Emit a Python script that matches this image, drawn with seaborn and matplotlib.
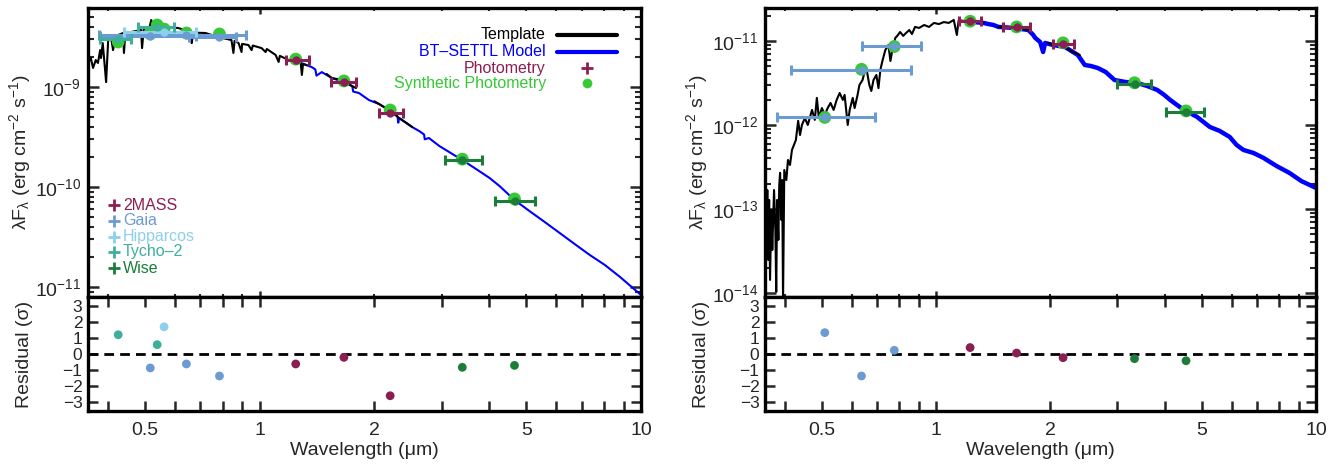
import numpy as np
import pandas as pd
import matplotlib
matplotlib.use("Agg")
import matplotlib.pyplot as plt
import seaborn as sns
from matplotlib.ticker import FixedLocator, NullFormatter, FuncFormatter, LogLocator, FixedFormatter

# ======================= DATA: left star =======================
L_tpl_vis_wl = [0.355,0.361,0.366,0.372,0.377,0.382,0.384,0.388,0.393,0.396,0.401,0.408,0.413,0.419,0.426,
                0.439,0.441,0.445,0.461,0.489,0.492,0.497,0.515,0.520,0.526,0.566,0.612,0.662,0.664,0.670,
                0.721,0.780,0.844,0.854,0.860,0.881,0.897,0.900,0.935,0.953,0.960,1.012,1.037,1.045,1.102,
                1.122,1.130,1.192,1.282,1.291,1.300,1.330]
L_tpl_vis_fx = [1.74e-9,1.95e-9,1.55e-9,1.86e-9,1.74e-9,2.34e-9,1.95e-9,2.75e-9,1.58e-9,1.12e-9,2.95e-9,3.16e-9,2.34e-9,3.20e-9,3.31e-9,
                3.47e-9,2.19e-9,3.50e-9,3.55e-9,3.72e-9,2.45e-9,3.80e-9,4.00e-9,4.68e-9,4.17e-9,3.98e-9,3.89e-9,3.55e-9,2.75e-9,3.50e-9,
                3.47e-9,3.16e-9,2.95e-9,2.19e-9,2.90e-9,2.75e-9,2.24e-9,2.70e-9,2.63e-9,2.34e-9,2.60e-9,2.45e-9,2.24e-9,2.40e-9,2.09e-9,
                1.78e-9,2.05e-9,1.86e-9,1.74e-9,1.32e-9,1.70e-9,1.65e-9]
L_tpl_h_wl = [1.50, 1.546, 1.60, 1.683, 1.75, 1.79]
L_tpl_h_fx = [1.35e-9, 1.23e-9, 1.20e-9, 1.10e-9, 1.02e-9, 9.77e-10]
L_tpl_k_wl = [2.00, 2.057, 2.12, 2.184, 2.25, 2.321, 2.40, 2.512]
L_tpl_k_fx = [7.20e-10, 6.76e-10, 6.30e-10, 5.89e-10, 5.40e-10, 4.90e-10, 4.50e-10, 3.98e-10]

L_mod_wl = [1.266,1.371,1.40,1.41,1.456,1.546,1.683,1.75,1.76,1.822,1.935,2.057,2.184,2.30,2.31,2.321,2.512,2.62,
            2.70,2.71,2.78,2.96,3.14,3.40,3.66,4.01,4.26,4.66,5.10,5.59,6.12,6.70,7.34,8.04,8.81,10.0]
L_mod_fx = [1.78e-9,1.58e-9,1.50e-9,1.30e-9,1.41e-9,1.23e-9,1.10e-9,1.02e-9,9.0e-10,8.71e-10,7.41e-10,6.76e-10,5.89e-10,
            5.10e-10,4.40e-10,4.90e-10,3.98e-10,3.63e-10,3.35e-10,3.00e-10,3.09e-10,2.57e-10,2.24e-10,1.86e-10,1.55e-10,
            1.23e-10,1.02e-10,7.41e-11,5.75e-11,4.47e-11,3.47e-11,2.69e-11,2.09e-11,1.66e-11,1.26e-11,8.32e-12]

L_inst = ["Tycho-2","Gaia","Tycho-2","Hipparcos","Gaia","Gaia","2MASS","2MASS","2MASS","Wise","Wise"]
L_wl   = [0.426, 0.517, 0.539, 0.562, 0.643, 0.785, 1.244, 1.664, 2.20, 3.40, 4.66]
L_lo   = [0.382, 0.382, 0.480, 0.441, 0.379, 0.654, 1.17, 1.54, 2.06, 3.07, 4.15]
L_hi   = [0.461, 0.683, 0.597, 0.683, 0.924, 0.870, 1.35, 1.79, 2.38, 3.84, 5.26]
L_fx   = [3.02e-9, 3.24e-9, 3.98e-9, 3.55e-9, 3.31e-9, 3.16e-9, 1.86e-9, 1.12e-9, 5.50e-10, 1.86e-10, 7.24e-11]
L_syn  = [2.82e-9, 3.40e-9, 4.17e-9, 3.80e-9, 3.47e-9, 3.39e-9, 1.90e-9, 1.15e-9, 5.89e-10, 1.90e-10, 7.60e-11]
L_res  = [1.2, -0.87, 0.58, 1.69, -0.62, -1.37, -0.62, -0.21, -2.6, -0.83, -0.71]

# ======================= DATA: right star =======================
R_tpl_vis_wl = [0.356,0.358,0.360,0.362,0.364,0.366,0.369,0.371,0.375,0.378,
                0.380,0.382,0.385,0.387,0.389,0.392,0.394,0.396,0.399,0.404,
                0.408,0.413,0.418,0.423,0.428,0.434,0.439,0.444,0.452,0.460,
                0.472,0.480,0.486,0.492,0.501,0.510,0.519,0.528,0.538,0.548,
                0.558,0.569,0.575,0.586,0.593,0.604,0.611,0.622,0.629,0.641,
                0.649,0.656,0.668,0.676,0.685,0.697,0.706,0.714,0.723,0.736,
                0.750,0.759,0.768,0.782,0.791,0.805,0.820,0.835,0.851,0.865,
                0.881,0.903,0.931,0.959,0.988,1.018,1.049,1.081,1.114,1.135,
                1.148,1.183,1.219,1.256,1.294,1.334]
R_tpl_vis_fx = [1.28e-13,4.28e-14,1.68e-13,2.47e-14,1.28e-13,1.43e-14,9.73e-14,3.25e-14,1.68e-13,5.62e-14,
                1.03e-14,1.28e-13,4.28e-14,1.93e-13,2.69e-13,7.40e-14,2.21e-13,8.0e-15,2.91e-13,2.21e-13,
                3.83e-13,3.34e-13,5.04e-13,5.78e-13,6.62e-13,1.12e-12,7.60e-13,1.0e-12,1.21e-12,1.0e-12,
                1.51e-12,1.15e-12,2.10e-12,1.21e-12,1.59e-12,1.32e-12,1.59e-12,1.83e-12,1.51e-12,1.99e-12,
                2.40e-12,1.99e-12,2.28e-12,1.0e-12,1.51e-12,2.10e-12,1.59e-12,2.28e-12,2.99e-12,3.43e-12,
                4.28e-12,4.77e-12,2.99e-12,2.54e-12,3.43e-12,3.94e-12,2.75e-12,4.52e-12,5.78e-12,7.82e-12,
                8.96e-12,5.78e-12,7.82e-12,1.09e-11,1.15e-11,1.28e-11,1.15e-11,1.25e-11,1.35e-11,1.21e-11,
                1.47e-11,1.43e-11,1.55e-11,1.47e-11,1.64e-11,1.59e-11,1.68e-11,1.64e-11,1.78e-11,1.18e-11,
                1.78e-11,1.73e-11,1.78e-11,1.68e-11,1.73e-11,1.64e-11]
R_tpl_h_wl = [1.460, 1.551, 1.647, 1.750]
R_tpl_h_fx = [1.47e-11, 1.47e-11, 1.43e-11, 1.35e-11]
R_tpl_k_wl = [1.972, 2.033, 2.12, 2.184, 2.29, 2.39]
R_tpl_k_fx = [9.47e-12, 8.96e-12, 8.96e-12, 8.49e-12, 7.40e-12, 6.81e-12]

R_mod_wl = [1.256,1.334,1.375,1.417,1.460,1.600,1.750,1.803,1.824,1.880,1.914,1.937,2.033,2.184,2.362,2.464,2.555,
            2.665,2.795,2.951,3.153,3.388,3.597,3.822,3.987,4.131,4.308,4.496,4.861,5.256,5.580,5.929,6.181,6.444,
            6.849,7.278,7.870,8.511,9.147,10.0]
R_mod_fx = [1.68e-11,1.64e-11,1.59e-11,1.55e-11,1.47e-11,1.43e-11,1.35e-11,1.18e-11,1.09e-11,9.73e-12,7.40e-12,
            9.47e-12,8.96e-12,8.49e-12,6.81e-12,5.18e-12,5.04e-12,4.77e-12,4.28e-12,3.43e-12,3.25e-12,3.16e-12,
            2.91e-12,2.61e-12,2.28e-12,1.99e-12,1.73e-12,1.51e-12,1.25e-12,9.47e-13,8.49e-13,7.20e-13,5.78e-13,
            5.04e-13,4.64e-13,4.05e-13,3.25e-13,2.69e-13,2.15e-13,1.78e-13]

R_inst = ["Gaia","Gaia","Gaia","2MASS","2MASS","2MASS","Wise","Wise"]
R_wl   = [0.510, 0.637, 0.777, 1.23, 1.63, 2.16, 3.33, 4.55]
R_lo   = [0.382, 0.416, 0.637, 1.15, 1.50, 2.03, 3.00, 4.03]
R_hi   = [0.690, 0.860, 0.914, 1.31, 1.77, 2.31, 3.69, 5.07]
R_fx   = [1.25e-12, 4.52e-12, 8.70e-12, 1.73e-11, 1.47e-11, 9.20e-12, 3.10e-12, 1.42e-12]
R_syn  = [1.23e-12, 4.60e-12, 8.60e-12, 1.72e-11, 1.47e-11, 9.50e-12, 3.18e-12, 1.47e-12]
R_res  = [1.33, -1.37, 0.23, 0.40, 0.06, -0.23, -0.29, -0.42]

instruments = ["2MASS", "Gaia", "Hipparcos", "Tycho-2", "Wise"]
inst_labels = ["2MASS", "Gaia", "Hipparcos", "Tycho\u20132", "Wise"]
x_tick_vals = [0.5, 1, 2, 5, 10]
x_tick_labels = ["0.5", "1", "2", "5", "10"]
res_ticks = [-3, -2, -1, 0, 1, 2, 3]

# ======================= STYLE =======================
inst_colors = {"2MASS": "#8C1F52", "Gaia": "#6C9BD2", "Hipparcos": "#8CCFEE",
               "Tycho-2": "#3FAE9C", "Wise": "#1C7D3A"}
syn_color = "#35C935"
model_color = "#0000FF"

sns.set_theme(style="ticks")
plt.rcParams["font.family"] = ["Liberation Sans", "DejaVu Sans"]
plt.rcParams["mathtext.fontset"] = "custom"
plt.rcParams["mathtext.rm"] = "Liberation Sans"
plt.rcParams["mathtext.it"] = "Liberation Sans:italic"
plt.rcParams["mathtext.default"] = "regular"
FS = 14
FS_RES = 12.5
YLAB_X = -0.100

fig = plt.figure(figsize=(13.44, 4.66), dpi=100)
W, H = 1344.0, 466.0


def rect(x0, x1, y0, y1):
    return [x0 / W, 1 - y1 / H, (x1 - x0) / W, (y1 - y0) / H]


axL = fig.add_axes(rect(88, 641, 8, 297))
axLr = fig.add_axes(rect(88, 641, 297, 411))
axR = fig.add_axes(rect(765, 1316, 8, 297))
axRr = fig.add_axes(rect(765, 1316, 297, 411))

decade_fmt = FuncFormatter(lambda v, p: r"$10^{%d}$" % int(round(np.log10(v))))
xminor = [0.4, 0.6, 0.7, 0.8, 0.9, 2, 3, 4, 5, 6, 7, 8, 9]
xminor_res = [0.4, 0.6, 0.7, 0.8, 0.9, 3, 4, 6, 7, 8, 9]


def style_axes(ax):
    for s in ax.spines.values():
        s.set_linewidth(2.4)
        s.set_color("black")
        s.set_visible(True)


def draw(ax, axr, segs, mod_wl, mod_fx, mod_lw, inst, wl, lo, hi, fx, syn, res, ylim):
    ax.set_xscale("log")
    ax.set_yscale("log")
    # model underneath
    sns.lineplot(x=mod_wl, y=mod_fx, sort=False, estimator=None, color=model_color,
                 lw=mod_lw, ax=ax, legend=False, zorder=1)
    # template segments
    rows = []
    for i, (sw, sf) in enumerate(segs):
        for a, b in zip(sw, sf):
            rows.append((a, b, i))
    df = pd.DataFrame(rows, columns=["wl", "fx", "seg"])
    sns.lineplot(data=df, x="wl", y="fx", units="seg", estimator=None, sort=False,
                 color="black", lw=1.5, ax=ax, legend=False, zorder=2)
    # synthetic photometry
    sns.scatterplot(x=wl, y=syn, color=syn_color, s=85, edgecolor="none", ax=ax,
                    zorder=3, legend=False)
    # photometry with error bars
    wl_a, lo_a, hi_a, fx_a = map(np.asarray, (wl, lo, hi, fx))
    inst_a = np.asarray(inst)
    for name in instruments:
        m = inst_a == name
        if not m.any():
            continue
        c = inst_colors[name]
        ax.errorbar(wl_a[m], fx_a[m], xerr=[wl_a[m] - lo_a[m], hi_a[m] - wl_a[m]], fmt="o",
                    ms=5, color=c, mec=c, ecolor=c, elinewidth=2.2, capsize=3.5, capthick=2.2, zorder=4)
    ax.set_xlim(0.355, 10)
    ax.set_ylim(*ylim)
    ax.set_xlabel("")
    ax.set_ylabel(r"λF$_{λ}$ (erg cm$^{-2}$ s$^{-1}$)", fontsize=FS)
    ax.yaxis.set_label_coords(YLAB_X, 0.5)
    ax.xaxis.set_major_locator(FixedLocator([1, 10]))
    ax.xaxis.set_minor_locator(FixedLocator(xminor))
    ax.xaxis.set_major_formatter(NullFormatter())
    ax.xaxis.set_minor_formatter(NullFormatter())
    ax.yaxis.set_major_locator(LogLocator(base=10, numticks=20))
    ax.yaxis.set_minor_locator(LogLocator(base=10, subs=np.arange(2, 10), numticks=20))
    ax.yaxis.set_major_formatter(decade_fmt)
    ax.yaxis.set_minor_formatter(NullFormatter())
    ax.tick_params(axis="x", which="major", direction="in", top=True, bottom=True, length=4.5, width=1.8)
    ax.tick_params(axis="x", which="minor", direction="in", top=True, bottom=True, length=2.5, width=1.5)
    ax.tick_params(axis="y", which="major", direction="in", left=True, right=True, length=8, width=1.8,
                   labelsize=FS, pad=5)
    ax.tick_params(axis="y", which="minor", direction="in", left=True, right=True, length=4, width=1.5)
    style_axes(ax)

    # residuals
    axr.set_xscale("log")
    axr.axhline(0, color="black", lw=2, ls=(0, (3.5, 2.2)), zorder=1)
    sns.scatterplot(x=wl, y=res, hue=inst, palette=inst_colors, s=40, edgecolor="none",
                    ax=axr, legend=False, zorder=3)
    axr.set_xlim(0.355, 10)
    axr.set_ylim(-3.55, 3.55)
    axr.set_yticks(res_ticks)
    axr.set_yticklabels([("\u2212%d" % -t) if t < 0 else "%d" % t for t in res_ticks])
    axr.xaxis.set_major_locator(FixedLocator(x_tick_vals))
    axr.xaxis.set_major_formatter(FixedFormatter(x_tick_labels))
    axr.xaxis.set_minor_locator(FixedLocator(xminor_res))
    axr.xaxis.set_minor_formatter(NullFormatter())
    axr.tick_params(axis="x", which="both", direction="in", top=True, bottom=True, length=7, width=1.8,
                    labelsize=FS, pad=8)
    axr.tick_params(axis="y", which="both", direction="in", left=True, right=True, length=7, width=1.8,
                    labelsize=FS_RES, pad=4)
    axr.set_xlabel("Wavelength (μm)", fontsize=FS, labelpad=2)
    axr.set_ylabel("Residual (σ)", fontsize=FS)
    axr.yaxis.set_label_coords(YLAB_X, 0.5)
    style_axes(axr)


draw(axL, axLr,
     [(L_tpl_vis_wl, L_tpl_vis_fx), (L_tpl_h_wl, L_tpl_h_fx), (L_tpl_k_wl, L_tpl_k_fx)],
     L_mod_wl, L_mod_fx, 1.5, L_inst, L_wl, L_lo, L_hi, L_fx, L_syn, L_res, (7.94e-12, 6.17e-9))
draw(axR, axRr,
     [(R_tpl_vis_wl, R_tpl_vis_fx), (R_tpl_h_wl, R_tpl_h_fx), (R_tpl_k_wl, R_tpl_k_fx)],
     R_mod_wl, R_mod_fx, 3.2, R_inst, R_wl, R_lo, R_hi, R_fx, R_syn, R_res, (8.95e-15, 2.47e-11))

# ---------- legend (upper right of left panel) ----------
leg_items = [("Template", "black", "line"), ("BT\u2013SETTL Model", model_color, "line"),
             ("Photometry", inst_colors["2MASS"], "plus"), ("Synthetic Photometry", syn_color, "dot")]
leg_y = [0.907, 0.848, 0.792, 0.740]
for (lab, col, kind), yy in zip(leg_items, leg_y):
    axL.text(0.828, yy, lab, color=col, fontsize=11.5, ha="right", va="center", transform=axL.transAxes)
    if kind == "line":
        axL.plot([0.848, 0.957], [yy, yy], color=col, lw=3, transform=axL.transAxes, clip_on=False)
    elif kind == "plus":
        axL.plot([0.902], [yy], marker="+", ms=8, mew=2, color=col, transform=axL.transAxes)
    else:
        axL.plot([0.902], [yy], marker="o", ms=7, mec="none", color=col, transform=axL.transAxes)

# ---------- instrument key (lower left of left panel) ----------
key_y = [0.318, 0.263, 0.208, 0.156, 0.100]
for name, lab, yy in zip(instruments, inst_labels, key_y):
    c = inst_colors[name]
    axL.plot([0.047], [yy], marker="+", ms=8, mew=2, color=c, transform=axL.transAxes)
    axL.text(0.063, yy, lab, color=c, fontsize=11.5, ha="left", va="center", transform=axL.transAxes)

fig.savefig("out.png", dpi=100)
